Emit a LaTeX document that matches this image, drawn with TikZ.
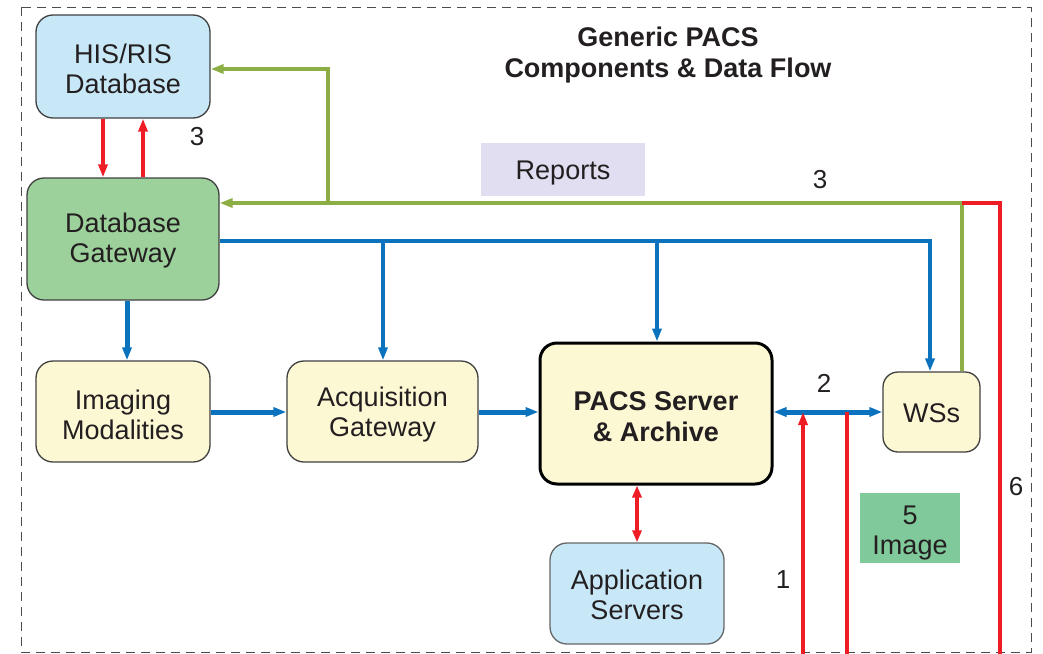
\documentclass[tikz,border=0pt]{standalone}
\usepackage{fontspec}
\setmainfont{Liberation Sans}
\usetikzlibrary{arrows.meta}
\definecolor{txt}{HTML}{231F20}
\definecolor{bluel}{HTML}{0B72BD}
\definecolor{redl}{HTML}{EE1C25}
\definecolor{greenl}{HTML}{8CAE44}
\definecolor{hisfill}{HTML}{C8E8F8}
\definecolor{dgfill}{HTML}{9DD19C}
\definecolor{yfill}{HTML}{FDF8D4}
\definecolor{repfill}{HTML}{E0DEF0}
\definecolor{imgfill}{HTML}{80C99A}
\tikzset{
  box/.style={draw=black!75, line width=1.3pt, rounded corners=17pt, inner sep=0pt},
  btxt/.style={text=txt, font=\fontsize{27}{30}\selectfont, align=center, inner sep=0pt},
  lbl/.style={text=txt, font=\fontsize{26}{30}\selectfont, inner sep=0pt},
  tip/.style={-{Triangle[length=13pt,width=9pt]}},
  bl/.style={draw=bluel, line width=3.5pt},
  blt/.style={draw=bluel, line width=5pt},
  rd/.style={draw=redl, line width=4.5pt},
  gr/.style={draw=greenl, line width=4pt},
}
\begin{document}
\begin{tikzpicture}[x=1pt,y=-1pt]
\useasboundingbox (0,0) rectangle (1043,653);
\draw[black!70, line width=1pt, dash pattern=on 9pt off 6pt] (21,7) rectangle (1031,652);

\node[btxt, font=\fontsize{27}{31}\selectfont\bfseries] (title) at (668,55) {Generic PACS\\Components \& Data Flow};

\node[box, fill=hisfill, minimum width=174pt, minimum height=103pt] (his) at (123,66.5) {};
\node[box, fill=dgfill, minimum width=192pt, minimum height=122pt] (dg) at (123,239) {};
\node[box, fill=yfill, minimum width=174pt, minimum height=101pt] (img) at (123,411.5) {};
\node[box, fill=yfill, minimum width=191pt, minimum height=101pt] (acq) at (382.5,411.5) {};
\node[box, fill=yfill, draw=black, line width=3pt, minimum width=232pt, minimum height=141pt] (pacs) at (656,413.5) {};
\node[box, fill=yfill, minimum width=97pt, minimum height=80pt, rounded corners=15pt] (ws) at (931.5,412) {};
\node[box, fill=hisfill, draw=black!60, minimum width=174pt, minimum height=101pt] (app) at (637,593.5) {};
\node[fill=repfill, minimum width=164pt, minimum height=53pt, inner sep=0pt] (rep) at (563,169.5) {};
\node[fill=imgfill, minimum width=100pt, minimum height=70pt, inner sep=0pt] (imgtag) at (910,528) {};

\node[btxt] (histxt) at ([yshift=-2pt]his.center) {HIS/RIS\\Database};
\node[btxt] (dgtxt) at ([yshift=-2pt]dg.center) {Database\\Gateway};
\node[btxt] (imgtxt) at ([yshift=-3pt]img.center) {Imaging\\Modalities};
\node[btxt] (acqtxt) at ([yshift=-3pt]acq.center) {Acquisition\\Gateway};
\node[btxt, font=\fontsize{27}{31}\selectfont\bfseries] (pacstxt) at ([yshift=-3pt]pacs.center) {PACS Server\\\& Archive};
\node[btxt] (wstxt) at ([yshift=-1pt]ws.center) {WSs};
\node[btxt] (apptxt) at ([yshift=-1pt]app.center) {Application\\Servers};
\node[btxt] (reptxt) at ([yshift=-4pt]rep.center) {Reports};
\node[btxt] (imgtagtxt) at ([yshift=-5pt]imgtag.center) {5\\Image};

% coordinates
\coordinate (rdn) at (103,0);
\coordinate (rup) at (143,0);
\coordinate (gc) at (962,203);
\coordinate (gb) at (328,203);
\coordinate (gh) at (328,69);
\coordinate (rc) at (1000,203);
\coordinate (rb) at (1000,656);
\coordinate (bb) at (930,241);
\coordinate (ba) at (383,241);
\coordinate (bp) at (657,241);
\coordinate (bd) at (127,0);
\coordinate (r1) at (803,656);
\coordinate (r2) at (847,656);
\coordinate (mid) at (0,412);

% red HIS <-> DG
\draw[rd, tip] (his.south -| rdn) -- (dg.north -| rdn);
\draw[rd, tip] (dg.north -| rup) -- (his.south -| rup);
\node[lbl] (l3a) at (197,137) {3};

% green
\draw[gr, tip] (ws.north -| gc) -- (gc) -- (dg.east |- gc);
\draw[gr, tip] (gb) -- (gh) -- (his.east |- gh);
\node[lbl] (l3b) at (820,180) {3};

% red 6
\draw[rd] (gc) -- (rc) -- (rb);
\node[lbl] (l6) at (1016,487) {6};

% blue bus
\draw[bl, tip] (dg.east |- bb) -- (bb) -- (ws.north -| bb);
\draw[bl, tip] (ba) -- (acq.north -| ba);
\draw[bl, tip] (bp) -- (pacs.north -| bp);

\draw[blt, tip] (dg.south -| bd) -- (img.north -| bd);
\draw[blt, tip] (img.east |- mid) -- (acq.west |- mid);
\draw[blt, tip] (acq.east |- mid) -- (pacs.west |- mid);
\draw[blt, {Triangle[length=13pt,width=9pt]}-{Triangle[length=13pt,width=9pt]}] (pacs.east |- ws.west) -- (ws.west);
\node[lbl] (l2) at (824,383) {2};

% red 1 and image
\draw[rd, tip] (r1) -- (r1 |- ws.west);
\draw[rd] (r2 |- ws.west) -- (r2);
\node[lbl] (l1) at (783,580) {1};

% pacs <-> app
\draw[draw=redl, line width=3.5pt, {Triangle[length=12pt,width=9pt]}-{Triangle[length=12pt,width=9pt]}] (pacs.south -| app.north) -- (app.north);
\end{tikzpicture}
\end{document}
